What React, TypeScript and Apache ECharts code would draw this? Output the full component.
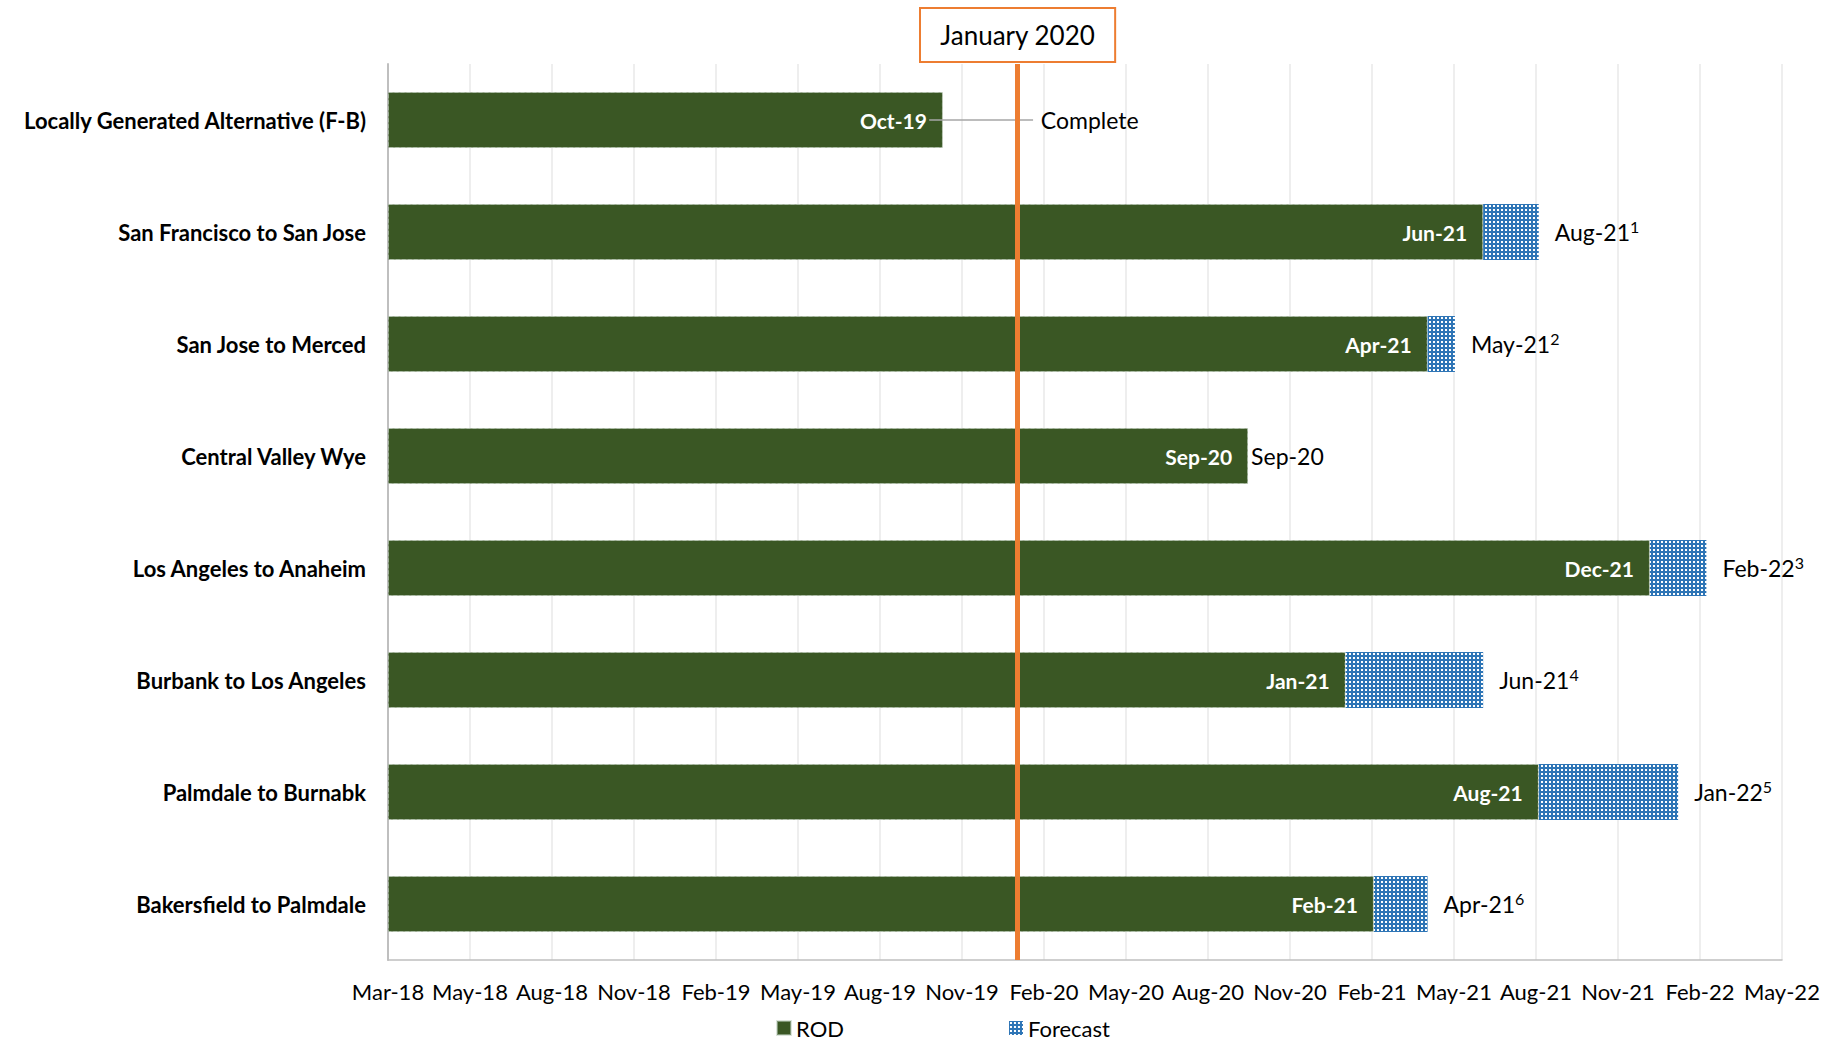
import React, { useEffect, useRef } from "react";
import * as echarts from "echarts";

const categories = [
  "Locally Generated Alternative (F-B)",
  "San Francisco to San Jose",
  "San Jose to Merced",
  "Central Valley Wye",
  "Los Angeles to Anaheim",
  "Burbank to Los Angeles",
  "Palmdale to Burnabk",
  "Bakersfield to Palmdale",
];
const rodEnd = [
  "2019-10-31",
  "2021-06-15",
  "2021-04-15",
  "2020-09-30",
  "2021-12-15",
  "2021-01-15",
  "2021-08-15",
  "2021-02-15",
];
const forecastEnd = [
  null,
  "2021-08-15",
  "2021-05-15",
  null,
  "2022-02-15",
  "2021-06-15",
  "2022-01-15",
  "2021-04-15",
];
const rodLabels = ["Oct-19", "Jun-21", "Apr-21", "Sep-20", "Dec-21", "Jan-21", "Aug-21", "Feb-21"];
const endLabels = ["Complete", "Aug-21", "May-21", "Sep-20", "Feb-22", "Jun-21", "Jan-22", "Apr-21"];
const footnotes = ["", "1", "2", "", "3", "4", "5", "6"];
const tickLabels = [
  "Mar-18", "May-18", "Aug-18", "Nov-18", "Feb-19", "May-19", "Aug-19", "Nov-19", "Feb-20",
  "May-20", "Aug-20", "Nov-20", "Feb-21", "May-21", "Aug-21", "Nov-21", "Feb-22", "May-22",
];
const axisStart = "2018-03-01";
const tickDays = 90;
const todayDate = "2020-01-21";
const todayLabel = "January 2020";

const FONT = "Lato, 'Open Sans', sans-serif";

const dayOf = (s: string) =>
  Math.round((Date.parse(s + "T00:00:00Z") - Date.parse(axisStart + "T00:00:00Z")) / 86400000);

function makePattern() {
  const c = document.createElement("canvas");
  c.width = 4;
  c.height = 4;
  const ctx = c.getContext("2d")!;
  ctx.fillStyle = "#2E75B6";
  ctx.fillRect(0, 0, 4, 4);
  ctx.fillStyle = "#FFFFFF";
  ctx.fillRect(1, 1, 2, 2);
  return c;
}

export default function App() {
  const ref = useRef<HTMLDivElement>(null);
  useEffect(() => {
    if (!ref.current) return;
    const chart = echarts.init(ref.current, null, { renderer: "svg" });
    const rodDays = rodEnd.map(dayOf);
    const fcDays = forecastEnd.map((d, i) => (d ? dayOf(d) - rodDays[i] : 0));
    const pattern = { image: makePattern(), repeat: "repeat" };

    const fcData = fcDays.map((v, i) => {
      let distance = 16;
      if (!forecastEnd[i]) distance = i === 0 ? 98 : 3;
      return {
        value: v,
        label: {
          show: true,
          position: "right",
          distance,
          formatter: footnotes[i] ? `{a|${endLabels[i]}}{s|${footnotes[i]}}` : `{a|${endLabels[i]}}`,
        },
      };
    });

    chart.setOption({
      animation: false,
      textStyle: { fontFamily: FONT },
      grid: { left: 388, right: 57, top: 64, bottom: 82, containLabel: false },
      legend: {
        data: ["ROD", "Forecast"],
        left: 776,
        top: 1017,
        padding: 0,
        icon: "rect",
        itemWidth: 14,
        itemHeight: 14,
        itemGap: 165,
        textStyle: { fontSize: 22, color: "#000", fontFamily: FONT },
      },
      xAxis: {
        type: "value",
        min: 0,
        max: tickDays * (tickLabels.length - 1),
        interval: tickDays,
        axisLine: { show: true, lineStyle: { color: "#BFBFBF", width: 1.5 } },
        axisTick: { show: false },
        splitLine: { show: true, lineStyle: { color: "#E8E8E8", width: 1.5 } },
        axisLabel: {
          fontSize: 22,
          color: "#000",
          margin: 20,
          fontFamily: FONT,
          formatter: (v: number) => tickLabels[Math.round(v / tickDays)] ?? "",
        },
      },
      yAxis: {
        type: "category",
        data: categories,
        inverse: true,
        axisTick: { show: false },
        axisLine: { show: true, lineStyle: { color: "#BFBFBF", width: 2 } },
        axisLabel: {
          fontSize: 22,
          fontWeight: "bold",
          color: "#000",
          margin: 22,
          fontFamily: FONT,
        },
      },
      series: [
        {
          name: "ROD",
          type: "bar",
          stack: "t",
          barCategoryGap: "50%",
          data: rodDays,
          itemStyle: {
            color: "#3A5724",
            borderColor: "rgba(190,205,190,0.55)",
            borderWidth: 1,
            borderType: "dashed",
          },
          label: {
            show: true,
            position: "insideRight",
            distance: 16,
            color: "#FFFFFF",
            fontWeight: "bold",
            fontSize: 21,
            fontFamily: FONT,
            formatter: (p: any) => rodLabels[p.dataIndex],
          },
          markLine: {
            silent: true,
            symbol: ["none", "none"],
            z: 10,
            lineStyle: { color: "#ED7D31", width: 5, type: "solid" },
            label: {
              show: true,
              position: "start",
              distance: 3,
              formatter: todayLabel,
              fontSize: 26,
              lineHeight: 30,
              color: "#000",
              fontFamily: FONT,
              backgroundColor: "#FFFFFF",
              borderColor: "#ED7D31",
              borderWidth: 2,
              padding: [11, 19, 11, 19],
            },
            data: [{ xAxis: dayOf(todayDate) }],
          },
        },
        {
          name: "Forecast",
          type: "bar",
          stack: "t",
          data: fcData,
          itemStyle: { color: pattern },
          label: {
            show: true,
            rich: {
              a: { fontSize: 23, color: "#000", fontFamily: FONT, lineHeight: 28 },
              s: { fontSize: 16, color: "#000", fontFamily: FONT, verticalAlign: "top", lineHeight: 16 },
            },
          },
          markLine: {
            silent: true,
            symbol: ["none", "none"],
            z: 5,
            lineStyle: { color: "#A6A6A6", width: 1.5, type: "solid" },
            label: { show: false },
            data: [
              [
                { coord: [rodDays[0] - 15, categories[0]] },
                { coord: [rodDays[0] + 99, categories[0]] },
              ],
            ],
          },
        },
      ],
    });
    return () => chart.dispose();
  }, []);
  return <div ref={ref} style={{ width: 1839, height: 1042, position: "absolute", left: 0, top: 0 }} />;
}
